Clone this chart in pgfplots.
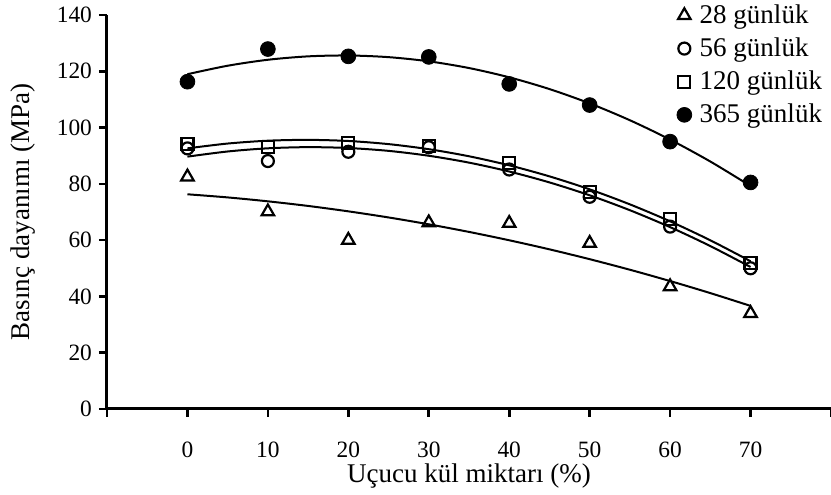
\documentclass[border=0pt]{standalone}
\usepackage{fontspec}
\setmainfont{Liberation Serif}
\usepackage{pgfplots}
\pgfplotsset{compat=1.18}
\begin{document}
\begin{tikzpicture}
\begin{axis}[
  width=362pt, height=197pt, scale only axis,
  xmin=-10, xmax=80, ymin=0, ymax=140,
  axis lines*=left,
  axis line style={line width=1.5pt, black},
  every tick/.style={line width=1.3pt, black},
  tick align=outside, major tick length=4pt,
  xtick={-10,0,10,20,30,40,50,60,70,80},
  xticklabels={,0,10,20,30,40,50,60,70,},
  ytick={0,20,40,60,80,100,120,140},
  /pgf/number format/assume math mode=true,
  tick label style={font=\fontsize{11.7}{14}\selectfont},
  xticklabel style={yshift=-9pt},
  xlabel={Uçucu kül miktarı (\%)},
  ylabel={Basınç dayanımı (MPa)},
  label style={font=\fontsize{13.5}{16}\selectfont},
  x label style={at={(axis description cs:0.5,0)}, anchor=center, yshift=-33.5pt},
  y label style={at={(axis description cs:-0.116,0.5)}, anchor=center},
  clip=false,
  legend style={at={(axis cs:60.8,144.2)}, anchor=north west, draw=none, fill=none,
    font=\fontsize{13.5}{16}\selectfont, inner sep=0pt, row sep=4.7pt, column sep=3.5pt,
    nodes={inner sep=0.5pt}},
  legend cell align=left,
]
\coordinate (bl) at (rel axis cs:0,0);
\coordinate (tr) at (rel axis cs:1,1);
% data points
\addplot[only marks, mark=triangle, mark size=3.6pt, mark options={line width=1.1pt, black, fill=white}]
 coordinates {(0,82.5)(10,70.1)(20,60.0)(30,66.2)(40,66.0)(50,58.9)(60,43.5)(70,34.0)};
\addlegendentry{28 günlük}
\addplot[only marks, mark=o, mark size=3pt, mark options={line width=1.1pt, black}]
 coordinates {(0,92.6)(10,88.1)(20,91.4)(30,93.0)(40,85.1)(50,75.4)(60,64.8)(70,50.0)};
\addlegendentry{56 günlük}
\addplot[only marks, mark=square, mark size=3pt, mark options={line width=1.1pt, black}]
 coordinates {(0,94.1)(10,93.2)(20,94.4)(30,93.5)(40,87.5)(50,77.2)(60,67.4)(70,52.0)};
\addlegendentry{120 günlük}
\addplot[only marks, mark=*, mark size=3.7pt, mark options={black, fill=black}]
 coordinates {(0,116.3)(10,127.9)(20,125.3)(30,125.1)(40,115.5)(50,108.0)(60,95.0)(70,80.5)};
\addlegendentry{365 günlük}
% trend curves
\addplot[black, line width=1pt, smooth, no markers, forget plot]
 coordinates {(0,76.29)(5,75.18)(10,73.79)(15,72.15)(20,70.23)(25,68.06)(30,65.62)(35,62.92)(40,59.95)(45,56.73)(50,53.23)(55,49.48)(60,45.46)(65,41.18)(70,36.63)};
\addplot[black, line width=1pt, smooth, no markers, forget plot]
 coordinates {(0,89.67)(5,91.50)(10,92.63)(15,93.04)(20,92.73)(25,91.72)(30,89.98)(35,87.54)(40,84.38)(45,80.51)(50,75.93)(55,70.63)(60,64.62)(65,57.89)(70,50.45)};
\addplot[black, line width=1pt, smooth, no markers, forget plot]
 coordinates {(0,92.61)(5,94.32)(10,95.33)(15,95.63)(20,95.23)(25,94.12)(30,92.31)(35,89.80)(40,86.58)(45,82.66)(50,78.04)(55,72.71)(60,66.68)(65,59.94)(70,52.50)};
\addplot[black, line width=1pt, smooth, no markers, forget plot]
 coordinates {(0,118.96)(5,121.97)(10,124.09)(15,125.30)(20,125.61)(25,125.02)(30,123.54)(35,121.15)(40,117.86)(45,113.68)(50,108.59)(55,102.60)(60,95.72)(65,87.93)(70,79.24)};
\end{axis}
\pgfresetboundingbox
\path[use as bounding box] ([xshift=-53.5pt,yshift=-43pt]bl) rectangle ([yshift=7.5pt]tr);
\end{tikzpicture}
\end{document}
